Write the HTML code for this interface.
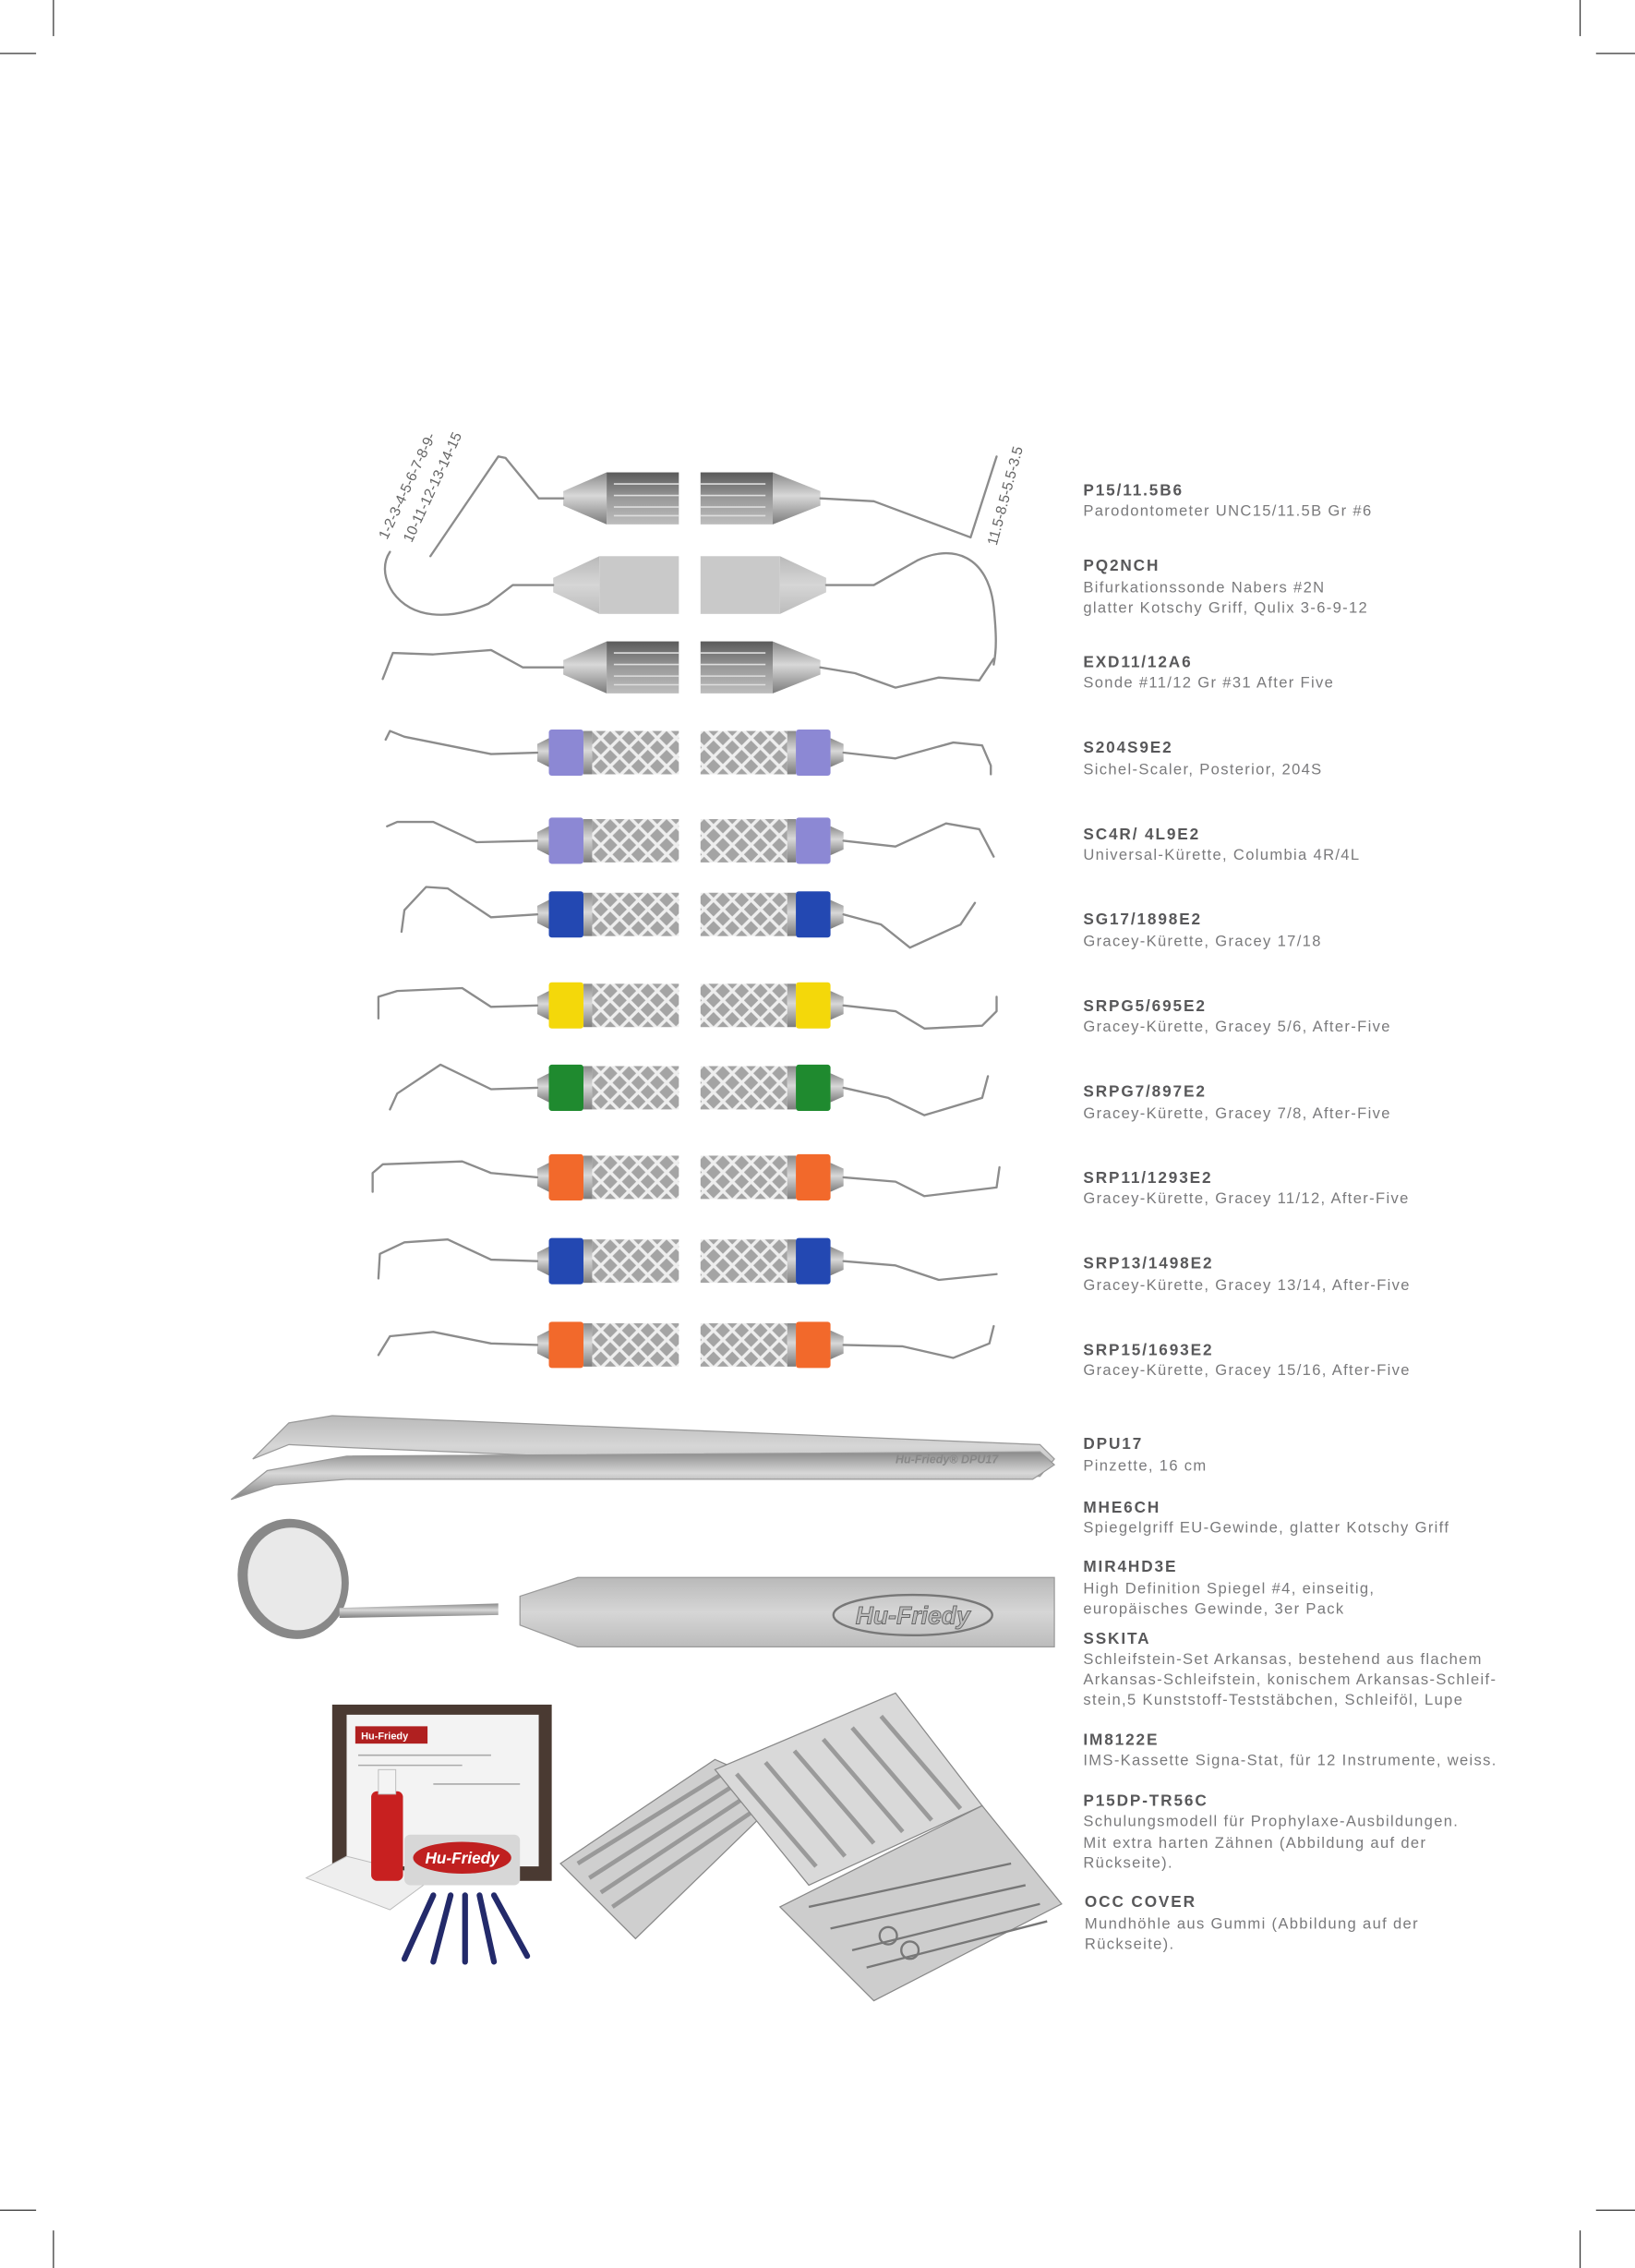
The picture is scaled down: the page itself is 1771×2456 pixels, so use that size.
<!DOCTYPE html>
<html><head><meta charset="utf-8"><style>
html,body{margin:0;padding:0;background:#fff;}
svg{display:block;}
.b{font-family:"Liberation Sans",sans-serif;font-weight:bold;font-size:11px;fill:#58585a;letter-spacing:1.2px;}
.r{font-family:"Liberation Sans",sans-serif;font-size:10.6px;fill:#7a7a7c;letter-spacing:0.85px;}
.t{fill:none;stroke:#8c8c8c;stroke-width:1.5;stroke-linejoin:round;stroke-linecap:round;}
.m{font-family:"Liberation Sans",sans-serif;font-size:10px;fill:#666;}
</style></head><body>
<svg width="1771" height="2456" viewBox="0 0 1132 1570" preserveAspectRatio="none" xmlns="http://www.w3.org/2000/svg">
<defs>
<pattern id="x" width="13" height="13" patternUnits="userSpaceOnUse" patternTransform="translate(0,3)">
<rect width="13" height="13" fill="#a4a4a4"/>
<path d="M0 0L13 13M13 0L0 13" stroke="#eeeeee" stroke-width="2.2"/>
</pattern>
<linearGradient id="g" x1="0" y1="0" x2="0" y2="1">
<stop offset="0" stop-color="#8a8a8a"/><stop offset="0.45" stop-color="#d8d8d8"/><stop offset="1" stop-color="#7c7c7c"/>
</linearGradient>
<linearGradient id="dg" x1="0" y1="0" x2="0" y2="1">
<stop offset="0" stop-color="#5a5a5a"/><stop offset="0.5" stop-color="#9a9a9a"/><stop offset="1" stop-color="#bdbdbd"/>
</linearGradient>
<linearGradient id="lg" x1="0" y1="0" x2="0" y2="1">
<stop offset="0" stop-color="#b9b9b9"/><stop offset="0.5" stop-color="#d6d6d6"/><stop offset="1" stop-color="#bcbcbc"/>
</linearGradient>
<g id="ch">
<polygon points="372,-6 380,-10 380,10 372,6" fill="url(#g)"/>
<rect x="380" y="-16" width="24" height="32" rx="2" fill="currentColor"/>
<rect x="404" y="-15" width="6" height="30" fill="url(#g)"/>
<rect x="410" y="-15" width="60" height="30" fill="url(#x)"/>
<polygon points="584,-6 575,-10 575,10 584,6" fill="url(#g)"/>
<rect x="551" y="-16" width="24" height="32" rx="2" fill="currentColor"/>
<rect x="545" y="-15" width="6" height="30" fill="url(#g)"/>
<rect x="485" y="-15" width="60" height="30" fill="url(#x)"/>
</g>
<g id="mh">
<polygon points="390,-5 420,-18 420,18 390,5" fill="url(#g)"/>
<rect x="420" y="-18" width="50" height="36" fill="url(#dg)"/>
<path d="M425 -10H470M425 -2H470M425 6H470M425 12H470" stroke="#ddd" stroke-width="1"/>
<polygon points="568,-5 535,-18 535,18 568,5" fill="url(#g)"/>
<rect x="485" y="-18" width="50" height="36" fill="url(#dg)"/>
<path d="M485 -10H530M485 -2H530M485 6H530M485 12H530" stroke="#ddd" stroke-width="1"/>
</g>
</defs>

<g stroke="#333" stroke-width="0.8">
<line x1="37" y1="0" x2="37" y2="25"/><line x1="0" y1="37" x2="25" y2="37"/>
<line x1="1094" y1="0" x2="1094" y2="25"/><line x1="1105" y1="37" x2="1132" y2="37"/>
<line x1="37" y1="1544" x2="37" y2="1570"/><line x1="0" y1="1530" x2="25" y2="1530"/>
<line x1="1094" y1="1544" x2="1094" y2="1570"/><line x1="1105" y1="1530" x2="1132" y2="1530"/>
</g>

<g transform="translate(0,345)"><use href="#mh"/></g>
<polyline class="t" points="390,345 373,345 350,317 345,316 298,385"/>
<polyline class="t" points="568,345 605,347 672,372 690,316"/>
<text class="m" transform="translate(268,374) rotate(-65)">1-2-3-4-5-6-7-8-9-</text>
<text class="m" transform="translate(285,376) rotate(-65)">10-11-12-13-14-15</text>
<text class="m" transform="translate(690,378) rotate(-75)">11.5-8.5-5.5-3.5</text>
<polygon points="383,400 415,385 415,425 383,410" fill="url(#lg)"/>
<rect x="415" y="385" width="55" height="40" fill="#c9c9c9"/>
<polygon points="572,400 540,385 540,425 572,410" fill="url(#lg)"/>
<rect x="485" y="385" width="55" height="40" fill="#c9c9c9"/>
<path class="t" d="M383 405 L355 405 L338 418 C310 430 285 428 272 410 C264 398 266 388 270 382"/>
<path class="t" d="M572 405 L605 405 L635 388 C660 376 684 385 688 420 C690 440 690 450 688 460"/>
<g transform="translate(0,462)"><use href="#mh"/></g>
<polyline class="t" points="390,462 362,462 340,450 300,453 272,452 265,470"/>
<polyline class="t" points="568,462 592,466 620,476 650,469 678,471 688,456"/>
<g transform="translate(0,521)" color="#8c88d4"><use href="#ch"/></g>
<polyline class="t" points="372,521 340,522 300,514 280,510 270,506 267,512"/>
<polyline class="t" points="584,521 620,525 660,514 680,516 686,530 686,536"/>
<g transform="translate(0,582)" color="#8c88d4"><use href="#ch"/></g>
<polyline class="t" points="372,582 330,583 300,569 275,569 268,572"/>
<polyline class="t" points="584,582 620,586 655,570 678,574 688,593"/>
<g transform="translate(0,633)" color="#2348b2"><use href="#ch"/></g>
<polyline class="t" points="372,633 340,635 310,615 295,614 280,630 278,645"/>
<polyline class="t" points="584,633 610,640 630,656 665,640 675,625"/>
<g transform="translate(0,696)" color="#f4d80a"><use href="#ch"/></g>
<polyline class="t" points="372,696 340,697 320,684 275,686 262,690 262,705"/>
<polyline class="t" points="584,696 620,700 640,712 680,710 690,700 690,690"/>
<g transform="translate(0,753)" color="#1f8a2f"><use href="#ch"/></g>
<polyline class="t" points="372,753 340,754 305,737 275,757 270,768"/>
<polyline class="t" points="584,753 615,760 640,772 680,760 684,745"/>
<g transform="translate(0,815)" color="#f2692b"><use href="#ch"/></g>
<polyline class="t" points="372,815 340,812 320,804 265,806 258,812 258,825"/>
<polyline class="t" points="584,815 620,818 640,828 690,822 692,808"/>
<g transform="translate(0,873)" color="#2348b2"><use href="#ch"/></g>
<polyline class="t" points="372,873 340,872 310,858 280,860 263,868 262,885"/>
<polyline class="t" points="584,873 620,876 650,886 690,882"/>
<g transform="translate(0,931)" color="#f2692b"><use href="#ch"/></g>
<polyline class="t" points="372,931 340,930 300,922 270,925 262,938"/>
<polyline class="t" points="584,931 625,932 660,940 685,930 688,918"/>

<path d="M175 1010 L200 985 L230 980 L720 1000 L730 1010 L720 1022 L240 1002 L200 1000 Z" fill="url(#lg)" stroke="#999" stroke-width="0.8"/>
<path d="M160 1038 L185 1018 L240 1008 L720 1005 L730 1014 L715 1024 L240 1024 L190 1028 Z" fill="url(#g)" stroke="#999" stroke-width="0.8"/>
<text x="620" y="1013" font-family="Liberation Sans,sans-serif" font-size="8" font-style="italic" font-weight="bold" fill="#888">Hu-Friedy® DPU17</text>

<ellipse cx="203" cy="1093" rx="38" ry="42" fill="#888" transform="rotate(-20 203 1093)"/>
<ellipse cx="204" cy="1093" rx="32" ry="36" fill="#e9e9e9" transform="rotate(-20 204 1093)"/>
<path d="M235 1113 L345 1110 L345 1118 L235 1120 Z" fill="url(#g)"/>
<polygon points="360,1105 400,1092 730,1092 730,1140 400,1140 360,1125" fill="url(#lg)" stroke="#999" stroke-width="0.8"/>
<ellipse cx="632" cy="1118" rx="55" ry="14" fill="none" stroke="#777" stroke-width="1.5"/>
<text x="632" y="1124" text-anchor="middle" font-family="Liberation Sans,sans-serif" font-size="17" font-style="italic" font-weight="bold" fill="#bdbdbd" stroke="#666" stroke-width="0.6">Hu-Friedy</text>

<rect x="230" y="1180" width="152" height="122" fill="#4a3a32"/>
<rect x="240" y="1187" width="133" height="105" fill="#f3f3f3"/>
<rect x="246" y="1195" width="50" height="12" fill="#b02020"/>
<text x="250" y="1204" font-family="Liberation Sans,sans-serif" font-size="7" font-weight="bold" fill="#fff">Hu-Friedy</text>
<path d="M248 1215H340M248 1222H320M300 1235H360" stroke="#aaa" stroke-width="1"/>
<polygon points="212,1300 240,1285 300,1300 270,1322" fill="#eeeeee" stroke="#bbb" stroke-width="0.6"/>
<rect x="257" y="1240" width="22" height="62" rx="4" fill="#c82020"/>
<rect x="262" y="1225" width="12" height="17" fill="#f4f4f4" stroke="#bbb" stroke-width="0.6"/>
<rect x="280" y="1270" width="80" height="35" rx="4" fill="#d7d7d7"/>
<ellipse cx="320" cy="1286" rx="34" ry="11" fill="#c02020"/>
<text x="320" y="1290" text-anchor="middle" font-family="Liberation Sans,sans-serif" font-size="11" font-style="italic" font-weight="bold" fill="#fff">Hu-Friedy</text>
<g stroke="#232a6a" stroke-width="4" stroke-linecap="round">
<line x1="300" y1="1312" x2="280" y2="1356"/><line x1="312" y1="1312" x2="300" y2="1358"/>
<line x1="322" y1="1312" x2="322" y2="1358"/><line x1="332" y1="1312" x2="342" y2="1358"/>
<line x1="342" y1="1312" x2="365" y2="1354"/>
</g>

<polygon points="388,1290 495,1218 545,1240 440,1342" fill="#cfcfcf" stroke="#888" stroke-width="0.8"/>
<g stroke="#999" stroke-width="3">
<line x1="400" y1="1290" x2="500" y2="1228"/><line x1="408" y1="1300" x2="508" y2="1236"/>
<line x1="416" y1="1310" x2="516" y2="1244"/><line x1="424" y1="1320" x2="524" y2="1252"/>
</g>
<polygon points="495,1225 620,1172 680,1250 560,1305" fill="#d9d9d9" stroke="#888" stroke-width="0.8"/>
<g stroke="#9a9a9a" stroke-width="3">
<line x1="510" y1="1228" x2="565" y2="1292"/><line x1="530" y1="1220" x2="585" y2="1285"/>
<line x1="550" y1="1212" x2="605" y2="1276"/><line x1="570" y1="1204" x2="625" y2="1268"/>
<line x1="590" y1="1196" x2="645" y2="1260"/><line x1="610" y1="1188" x2="665" y2="1252"/>
</g>
<polygon points="540,1320 680,1250 735,1318 605,1385" fill="#cdcdcd" stroke="#888" stroke-width="0.8"/>
<g stroke="#777" stroke-width="1.5" fill="none">
<path d="M560 1320L700 1290M575 1335L710 1305M590 1350L720 1318M600 1362L725 1330"/>
<circle cx="615" cy="1340" r="6"/><circle cx="630" cy="1350" r="6"/>
</g>

<text class="b" x="750" y="343">P15/11.5B6</text>
<text class="r" x="750" y="357">Parodontometer UNC15/11.5B Gr #6</text>
<text class="b" x="750" y="395">PQ2NCH</text>
<text class="r" x="750" y="410">Bifurkationssonde Nabers #2N</text>
<text class="r" x="750" y="424">glatter Kotschy Griff, Qulix 3-6-9-12</text>
<text class="b" x="750" y="462">EXD11/12A6</text>
<text class="r" x="750" y="476">Sonde #11/12 Gr #31 After Five</text>
<text class="b" x="750" y="521">S204S9E2</text>
<text class="r" x="750" y="536">Sichel-Scaler, Posterior, 204S</text>
<text class="b" x="750" y="581">SC4R/ 4L9E2</text>
<text class="r" x="750" y="595">Universal-Kürette, Columbia 4R/4L</text>
<text class="b" x="750" y="640">SG17/1898E2</text>
<text class="r" x="750" y="655">Gracey-Kürette, Gracey 17/18</text>
<text class="b" x="750" y="700">SRPG5/695E2</text>
<text class="r" x="750" y="714">Gracey-Kürette, Gracey 5/6, After-Five</text>
<text class="b" x="750" y="759">SRPG7/897E2</text>
<text class="r" x="750" y="774">Gracey-Kürette, Gracey 7/8, After-Five</text>
<text class="b" x="750" y="819">SRP11/1293E2</text>
<text class="r" x="750" y="833">Gracey-Kürette, Gracey 11/12, After-Five</text>
<text class="b" x="750" y="878">SRP13/1498E2</text>
<text class="r" x="750" y="893">Gracey-Kürette, Gracey 13/14, After-Five</text>
<text class="b" x="750" y="938">SRP15/1693E2</text>
<text class="r" x="750" y="952">Gracey-Kürette, Gracey 15/16, After-Five</text>
<text class="b" x="750" y="1003">DPU17</text>
<text class="r" x="750" y="1018">Pinzette, 16 cm</text>
<text class="b" x="750" y="1047">MHE6CH</text>
<text class="r" x="750" y="1061">Spiegelgriff EU-Gewinde, glatter Kotschy Griff</text>
<text class="b" x="750" y="1088">MIR4HD3E</text>
<text class="r" x="750" y="1103">High Definition Spiegel #4, einseitig,</text>
<text class="r" x="750" y="1117">europäisches Gewinde, 3er Pack</text>
<text class="b" x="750" y="1138">SSKITA</text>
<text class="r" x="750" y="1152">Schleifstein-Set Arkansas, bestehend aus flachem</text>
<text class="r" x="750" y="1166">Arkansas-Schleifstein, konischem Arkansas-Schleif-</text>
<text class="r" x="750" y="1180">stein,5 Kunststoff-Teststäbchen, Schleiföl, Lupe</text>
<text class="b" x="750" y="1208">IM8122E</text>
<text class="r" x="750" y="1222">IMS-Kassette Signa-Stat, für 12 Instrumente, weiss.</text>
<text class="b" x="750" y="1250">P15DP-TR56C</text>
<text class="r" x="750" y="1264">Schulungsmodell für Prophylaxe-Ausbildungen.</text>
<text class="r" x="750" y="1279">Mit extra harten Zähnen (Abbildung auf der</text>
<text class="r" x="750" y="1293">Rückseite).</text>
<text class="b" x="751" y="1320">OCC COVER</text>
<text class="r" x="751" y="1335">Mundhöhle aus Gummi (Abbildung auf der</text>
<text class="r" x="751" y="1349">Rückseite).</text>
</svg>
</body></html>
